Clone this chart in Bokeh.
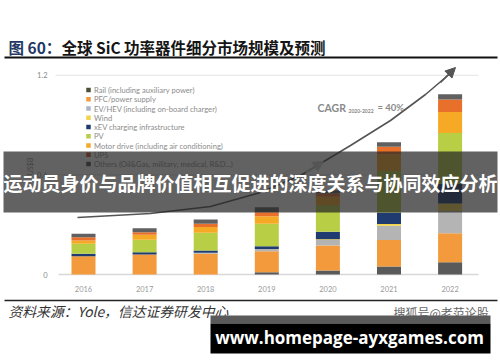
import math
from bokeh.plotting import figure
from bokeh.models import Range1d, ColumnDataSource, Arrow, NormalHead
from bokeh.core.properties import value
from bokeh.embed import file_html
from bokeh.resources import INLINE

# ---------------- data ----------------
years = ["2016", "2017", "2018", "2019", "2020", "2021", "2022"]
segments = [
    "Rail (including auxiliary power)",
    "PFC/power supply",
    "EV/HEV (including on-board charger)",
    "Wind",
    "xEV charging infrastructure",
    "PV",
    "Motor drive (including air conditioning)",
    "UPS",
    "Others (Oil&Gas, military, medical, R&D...)",
]
rail   = [0.0,   0.0,   0.0,   0.014, 0.024, 0.048, 0.074]
pfc    = [0.110, 0.120, 0.125, 0.126, 0.150, 0.160, 0.175]
evhev  = [0.0,   0.0,   0.006, 0.014, 0.034, 0.086, 0.133]
wind   = [0.0,   0.0,   0.0,   0.0,   0.004, 0.010, 0.045]
xev    = [0.015, 0.014, 0.014, 0.016, 0.046, 0.070, 0.120]
pv     = [0.060, 0.075, 0.107, 0.135, 0.160, 0.250, 0.305]
motor  = [0.020, 0.030, 0.034, 0.046, 0.050, 0.100, 0.127]
ups    = [0.020, 0.016, 0.020, 0.024, 0.020, 0.045, 0.075]
others = [0.020, 0.024, 0.026, 0.030, 0.020, 0.027, 0.032]
y_ticks = [0, 0.6, 1.2]
y_tick_labels = ["0", "0.6", "1.2"]
y_axis_label = "US$B"
cagr_main = "CAGR"
cagr_sub = "2020-2022"
cagr_value = "= 40%"
title_prefix = "图 60："
title_text = "全球 SiC 功率器件细分市场规模及预测"
source_text = "资料来源：Yole，信达证券研发中心"
banner_text = "运动员身价与品牌价值相互促进的深度关系与协同效应分析"
watermark_text = "搜狐号@老范论股"
site_text = "www.homepage-ayxgames.com"

# ---------------- styles ----------------
keys = ["rail", "pfc", "evhev", "wind", "xev", "pv", "motor", "ups", "others"]
colors = ["#5a5a5a", "#f39a3d", "#b4b4b4", "#f3d34a", "#1f3b70",
          "#b8cf45", "#f6a925", "#e8702a", "#606060"]
legend_colors = ["#4b5035", "#f39a3d", "#aab6c4", "#f3d34a", "#1f3b70",
                 "#b8cf45", "#f6a925", "#c8541d", "#505050"]

W, H = 500, 362

# pixel (reference image) -> data helpers for decoration placement
def X(px):
    return (px - 83.0) / 61.1

def Y(py):
    return (274.0 - py) / 166.0

p = figure(width=W, height=H,
           x_range=Range1d(X(0), X(W)), y_range=Range1d(Y(H), Y(0)),
           min_border=0, x_axis_location=None, y_axis_location=None,
           toolbar_location=None, output_backend="svg",
           outline_line_color=None, background_fill_color="white",
           border_fill_color="white")
p.xgrid.visible = False
p.ygrid.visible = False

# gridlines
p.segment(x0=[X(55)] * 2, x1=[X(478)] * 2, y0=y_ticks[1:], y1=y_ticks[1:],
          line_color="#e4e4e4", line_width=1)
p.segment(x0=[X(58)], x1=[X(478)], y0=[y_ticks[0]], y1=[y_ticks[0]],
          line_color="#d8d8d8", line_width=1.6)

# stacked bars
src = ColumnDataSource(dict(x=list(range(len(years))), rail=rail, pfc=pfc,
                            evhev=evhev, wind=wind, xev=xev, pv=pv,
                            motor=motor, ups=ups, others=others))
p.vbar_stack(keys, x="x", width=0.393, fill_color=colors, line_color=None,
             source=src)

# axis labels
axis_font = value("Lato")
p.text(x=list(range(len(years))), y=[Y(288.5)] * len(years), text=years,
       text_align="center", text_baseline="middle", text_font=axis_font,
       text_font_size=value("7.5px"), text_color="#9a9a9a")
p.text(x=[X(47)] * 3, y=y_ticks, text=y_tick_labels, text_align="right",
       text_baseline="middle", text_font=axis_font,
       text_font_size=value("7.5px"), text_color="#8a8a8a")
p.text(x=[X(29)], y=[Y(166)], text=[y_axis_label], angle=math.pi / 2,
       text_align="center", text_baseline="middle", text_font=axis_font,
       text_font_size=value("7px"), text_color="#8a8a8a")

# legend
for i, name in enumerate(segments):
    yy = Y(89.5 + 9.25 * i)
    p.scatter([X(88)], [yy], marker="square", size=4.5,
              fill_color=legend_colors[i], line_color=None)
    p.text([X(93.5)], [yy], text=[name], text_align="left",
           text_baseline="middle", text_font=axis_font,
           text_font_size=value("7.6px"), text_color="#8c8c8c")

# CAGR curve
curve_x = [X(v) for v in [77, 150, 210, 260, 300, 320, 350, 390, 425, 452]]
curve_y = [Y(v) for v in [217, 213, 206, 192, 175, 163, 145, 120, 94, 71]]
p.line(curve_x, curve_y, line_color="#555555", line_width=1.6)
p.add_layout(Arrow(x_start=X(440), y_start=Y(82), x_end=X(455), y_end=Y(67),
                   line_color="#555555", line_width=1.6,
                   end=NormalHead(size=10, fill_color="#555555",
                                  line_color="#555555")))
p.add_layout(Arrow(x_start=X(305), y_start=Y(172), x_end=X(323), y_end=Y(161),
                   line_color="#555555", line_width=1.6,
                   end=NormalHead(size=10, fill_color="#555555",
                                  line_color="#555555")))
p.text([X(317)], [Y(107.5)], text=[cagr_main], text_font=value("Lato"),
       text_font_style="bold", text_font_size=value("10.5px"),
       text_color="#8a8a8a", text_baseline="alphabetic")
p.text([X(348)], [Y(110)], text=[cagr_sub], text_font=value("Lato"),
       text_font_style="bold", text_font_size=value("5px"),
       text_color="#8a8a8a", text_baseline="alphabetic")
p.text([X(377)], [Y(106.5)], text=[cagr_value], text_font=value("Lato"),
       text_font_style="bold", text_font_size=value("9.5px"),
       text_color="#8a8a8a", text_baseline="alphabetic")

# title
cjk = value("Noto Sans CJK SC")
p.text([X(8)], [Y(46.5)], text=[title_prefix], text_font=cjk,
       text_font_style="bold", text_font_size=value("15.5px"),
       text_color="#1f3864", text_baseline="middle")
p.text([X(61)], [Y(46.5)], text=[title_text], text_font=cjk,
       text_font_style="bold", text_font_size=value("15.5px"),
       text_color="#151515", text_baseline="middle")
p.segment(x0=[X(4)], x1=[X(497)], y0=[Y(57)], y1=[Y(57)],
          line_color="#111111", line_width=2)

# footer
p.segment(x0=[X(4)], x1=[X(497)], y0=[Y(300)], y1=[Y(300)],
          line_color="#222222", line_width=1.5)
p.text([X(8)], [Y(310)], text=[source_text], text_font=cjk,
       text_font_style="italic", text_font_size=value("13.8px"),
       text_color="#333333", text_baseline="middle")
p.text([X(393)], [Y(312)], text=[watermark_text], text_font=cjk,
       text_font_size=value("12px"), text_color="#666666",
       text_baseline="middle")
p.quad(left=[X(210)], right=[X(490)], top=[Y(315)], bottom=[Y(323)],
       fill_color="#5a5a5a", line_color=None)
p.quad(left=[X(210)], right=[X(490)], top=[Y(323)], bottom=[Y(353)],
       fill_color="#000000", line_color=None)
p.text([X(349)], [Y(337)], text=[site_text], text_font=value("Open Sans"),
       text_font_style="bold", text_font_size=value("17px"),
       text_color="#ffffff", text_align="center", text_baseline="middle")

# overlay banner
p.quad(left=[X(3)], right=[X(497)], top=[Y(151)], bottom=[Y(212)],
       fill_color="#262626", fill_alpha=0.72, line_color=None)
p.text([X(250)], [Y(182)], text=[banner_text], text_font=cjk,
       text_font_style="bold", text_font_size=value("19px"),
       text_color="#ffffff", text_align="center", text_baseline="middle")

open("out.html", "w").write(file_html(p, INLINE))
